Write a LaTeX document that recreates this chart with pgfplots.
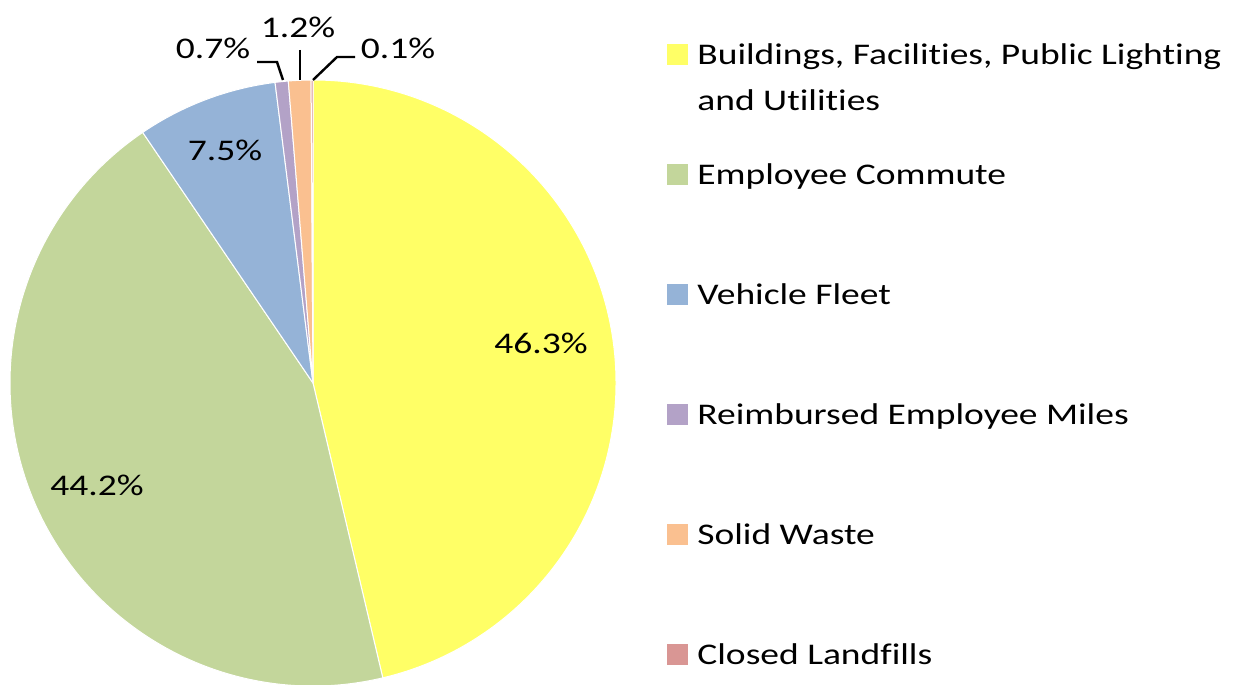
\documentclass[border=0pt]{standalone}
\usepackage{pgfplots}
\usepackage{pgfplotstable}
\pgfplotsset{compat=1.18}
\usepackage{fontspec}
\setmainfont{Carlito}[FakeStretch=1.25, Ligatures={NoCommon,NoRequired,NoContextual}, RawFeature={-liga;-dlig}]

\definecolor{slice0}{HTML}{FFFF66}
\definecolor{slice1}{HTML}{C3D69B}
\definecolor{slice2}{HTML}{95B3D7}
\definecolor{slice3}{HTML}{B3A2C7}
\definecolor{slice4}{HTML}{FAC090}
\definecolor{slice5}{HTML}{D99694}

\pgfplotstableread{
idx value
0 46.3
1 44.2
2 7.5
3 0.7
4 1.2
5 0.1
}\piedata

\begin{document}
\begin{tikzpicture}
\begin{axis}[
  width=617pt, height=342pt, scale only axis,
  xmin=0, xmax=1234, ymin=0, ymax=684,
  hide axis, clip=false,
  legend image code/.code={\fill[#1] (0pt,-5.25pt) rectangle (10.5pt,5.25pt);},
  legend style={draw=none, fill=none, at={(axis cs:667,640)}, anchor=north west,
    inner sep=0pt, row sep=49.5pt, column sep=4.5pt,
    font=\fontsize{15}{18}\selectfont,
    nodes={inner sep=0pt, text height=9.7pt, text depth=0pt}},
  legend cell align=left,
]
\def\cumA{90}
\pgfplotsforeachungrouped \i in {0,...,5}{%
  \pgfplotstablegetelem{\i}{value}\of\piedata
  \pgfmathsetmacro\cumB{\cumA-3.6*\pgfplotsretval}%
  \edef\tmp{\noexpand\fill[fill=slice\i, draw=white, line width=0.5pt, line join=round]
    (axis cs:313,301) -- ++(\cumA:151.5pt) arc[start angle=\cumA, end angle=\cumB, radius=151.5pt] -- cycle;}%
  \tmp
  \let\cumA\cumB
}
\addlegendimage{fill=slice0, draw=none}
\addlegendentry{\rlap{\raisebox{-23pt}[0pt][0pt]{and Utilities}}Buildings, Facilities, Public Lighting}
\addlegendimage{fill=slice1, draw=none}
\addlegendentry{Employee Commute}
\addlegendimage{fill=slice2, draw=none}
\addlegendentry{Vehicle Fleet}
\addlegendimage{fill=slice3, draw=none}
\addlegendentry{Reimbursed Employee Miles}
\addlegendimage{fill=slice4, draw=none}
\addlegendentry{Solid Waste}
\addlegendimage{fill=slice5, draw=none}
\addlegendentry{Closed Landfills}

\begin{scope}[every node/.style={font=\fontsize{15}{18}\selectfont, inner sep=0pt}]
\node at (axis cs:541,341) {46.3\%};
\node at (axis cs:97,199) {44.2\%};
\node at (axis cs:225,534) {7.5\%};
\node at (axis cs:213,636) {0.7\%};
\node at (axis cs:298,657) {1.2\%};
\node at (axis cs:398,636) {0.1\%};
\end{scope}
\draw[black, line width=1.2pt] (axis cs:257,622) -- (axis cs:277,622) -- (axis cs:283,604);
\draw[black, line width=1.2pt] (axis cs:300,634) -- (axis cs:300,604);
\draw[black, line width=1.2pt] (axis cs:313,604) -- (axis cs:337,627) -- (axis cs:355,627);
\end{axis}
\pgfresetboundingbox
\useasboundingbox (current axis.south west) rectangle (current axis.north east);
\end{tikzpicture}
\end{document}
